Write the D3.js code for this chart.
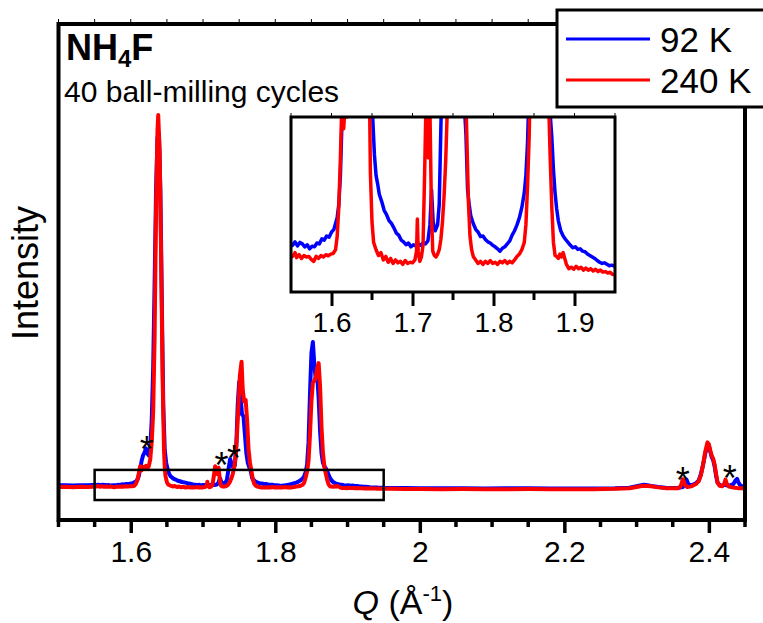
<!DOCTYPE html>
<html>
<head>
<meta charset="utf-8">
<script src="https://cdn.jsdelivr.net/npm/d3@7"></script>
<style>
  html, body { margin: 0; padding: 0; background: #fff; }
  svg text { font-family: "Liberation Sans", Arial, sans-serif; fill: #000; }
</style>
</head>
<body>
<svg id="chart" width="763" height="623"></svg>
<script>
// Q (1/A) and intensity, 0 = 240 K background level
const blue92 = [
  [1.500, 0.45], [1.510, 0.50], [1.520, 0.40], [1.530, 0.50], [1.540, 0.45], [1.548, 0.55],
  [1.552, 0.50], [1.555, 0.62], [1.558, 0.48], [1.561, 0.60], [1.564, 0.55], [1.567, 0.45],
  [1.570, 0.52], [1.573, 0.38], [1.576, 0.47], [1.579, 0.45], [1.582, 0.58], [1.585, 0.55],
  [1.588, 0.72], [1.591, 0.68], [1.594, 0.82], [1.597, 0.78], [1.600, 0.95], [1.603, 1.05],
  [1.605, 1.25], [1.607, 1.45], [1.609, 1.9], [1.611, 2.9], [1.613, 4.8], [1.615, 7.0],
  [1.617, 8.5], [1.619, 9.2], [1.621, 10.4], [1.623, 9.0], [1.625, 8.5], [1.627, 10.5],
  [1.629, 18], [1.631, 32], [1.633, 55], [1.635, 80], [1.637, 94], [1.639, 95], [1.641, 80],
  [1.643, 50], [1.645, 22], [1.647, 10], [1.649, 6.5], [1.651, 4.8], [1.653, 3.6], [1.655, 2.9],
  [1.657, 2.6], [1.659, 2.25], [1.662, 2.0], [1.665, 1.7], [1.668, 1.55], [1.671, 1.35],
  [1.674, 1.25], [1.677, 1.1], [1.680, 0.92], [1.683, 0.85], [1.686, 0.68], [1.689, 0.62],
  [1.692, 0.52], [1.695, 0.58], [1.698, 0.45], [1.701, 0.52], [1.704, 0.48], [1.707, 0.55],
  [1.710, 0.50], [1.713, 0.58], [1.716, 0.55], [1.719, 0.65], [1.7215, 1.2], [1.7235, 2.4],
  [1.7255, 1.3], [1.728, 1.0], [1.731, 1.2], [1.733, 1.9], [1.735, 4.5], [1.7375, 7.5],
  [1.740, 6.0], [1.742, 5.2], [1.744, 5.8], [1.746, 11], [1.748, 22], [1.750, 28.3], [1.752, 24],
  [1.754, 19.5], [1.756, 19], [1.758, 14], [1.760, 9], [1.762, 6.5], [1.764, 5.3], [1.766, 4.3],
  [1.768, 2.4], [1.770, 1.9], [1.772, 1.5], [1.775, 1.25], [1.778, 1.05], [1.781, 0.95],
  [1.784, 0.8], [1.787, 0.82], [1.790, 0.7], [1.793, 0.62], [1.796, 0.58], [1.799, 0.5],
  [1.802, 0.45], [1.805, 0.38], [1.808, 0.3], [1.811, 0.4], [1.814, 0.45], [1.817, 0.55],
  [1.820, 0.65], [1.823, 0.85], [1.826, 1.0], [1.829, 1.2], [1.832, 1.45], [1.835, 1.8],
  [1.838, 2.3], [1.840, 2.9], [1.842, 4.0], [1.844, 6], [1.846, 12], [1.848, 25], [1.850, 36],
  [1.852, 39], [1.854, 33], [1.856, 29], [1.858, 30], [1.860, 24], [1.862, 15], [1.864, 9],
  [1.866, 6.5], [1.868, 5.5], [1.870, 5], [1.872, 4.2], [1.874, 3.1], [1.876, 2.3], [1.878, 1.75],
  [1.880, 1.35], [1.883, 1.0], [1.886, 0.82], [1.889, 0.7], [1.892, 0.6], [1.895, 0.5],
  [1.898, 0.42], [1.901, 0.45], [1.904, 0.36], [1.907, 0.38], [1.910, 0.3], [1.913, 0.28],
  [1.916, 0.2], [1.919, 0.15], [1.922, 0.1], [1.925, 0.05], [1.928, -0.02], [1.931, -0.08],
  [1.934, -0.12], [1.937, -0.1], [1.940, -0.15], [1.943, -0.2], [1.946, -0.18], [1.950, -0.22],
  [1.96, -0.25], [1.98, -0.28], [2.00, -0.3], [2.03, -0.35], [2.06, -0.3], [2.09, -0.38],
  [2.12, -0.35], [2.15, -0.3], [2.18, -0.4], [2.21, -0.42], [2.24, -0.4], [2.27, -0.35],
  [2.29, -0.2], [2.300, 0.2], [2.305, 0.4], [2.310, 0.6], [2.315, 0.5], [2.320, 0.3],
  [2.330, 0.0], [2.340, -0.2], [2.350, -0.25], [2.358, -0.2], [2.364, 0.0], [2.367, 1.0],
  [2.369, 2.0], [2.371, 1.0], [2.374, 0.4], [2.378, 0.6], [2.382, 1.0], [2.386, 1.8],
  [2.389, 3.5], [2.392, 6], [2.395, 9], [2.398, 11.2], [2.400, 11], [2.402, 9.5], [2.404, 8],
  [2.406, 7.2], [2.408, 5.5], [2.410, 3], [2.412, 1.2], [2.415, 0.5], [2.418, 0.3], [2.422, 0.6],
  [2.426, 0.4], [2.430, 0.5], [2.434, 0.8], [2.437, 1.8], [2.439, 2.2], [2.441, 1.2],
  [2.444, 0.3], [2.450, 0.1],
];

const red240 = [
  [1.500, 0.0], [1.510, 0.05], [1.520, -0.05], [1.530, 0.05], [1.540, 0.0], [1.548, 0.1],
  [1.552, 0.12], [1.555, 0.25], [1.557, 0.08], [1.560, 0.18], [1.563, 0.05], [1.566, 0.15],
  [1.569, 0.1], [1.572, 0.12], [1.575, 0.02], [1.578, -0.05], [1.581, 0.12], [1.584, 0.05],
  [1.587, 0.15], [1.590, 0.1], [1.593, 0.18], [1.596, 0.14], [1.599, 0.2], [1.602, 0.22],
  [1.605, 0.35], [1.607, 0.8], [1.609, 1.8], [1.611, 3.5], [1.613, 5.6], [1.615, 4.5],
  [1.617, 5.4], [1.619, 4.9], [1.621, 5.7], [1.623, 5.0], [1.625, 5.6], [1.627, 7.5],
  [1.629, 12], [1.631, 20], [1.633, 40], [1.635, 75], [1.637, 96], [1.638, 100], [1.640, 90],
  [1.642, 62], [1.644, 30], [1.646, 10], [1.647, 5.5], [1.648, 3], [1.650, 1.3], [1.652, 0.6],
  [1.655, 0.35], [1.658, 0.15], [1.661, 0.25], [1.664, 0.0], [1.667, 0.12], [1.670, -0.08],
  [1.673, 0.05], [1.676, -0.12], [1.679, 0.0], [1.682, -0.1], [1.685, -0.05], [1.688, -0.15],
  [1.691, -0.02], [1.694, -0.12], [1.697, -0.08], [1.700, -0.1], [1.703, 0.0], [1.705, 0.3],
  [1.706, 1.4], [1.707, 0.3], [1.709, -0.05], [1.711, 0.1], [1.713, 0.5], [1.715, 3],
  [1.7168, 5.6], [1.718, 4], [1.7195, 3.5], [1.7215, 5.2], [1.7235, 1.5], [1.725, 0.3],
  [1.727, 0.15], [1.729, 0.1], [1.731, 0.2], [1.733, 0.35], [1.735, 0.7], [1.737, 1.3],
  [1.739, 2.2], [1.741, 3.4], [1.743, 5.2], [1.745, 8], [1.747, 14], [1.749, 22], [1.751, 30],
  [1.7533, 33.7], [1.755, 26], [1.757, 23], [1.759, 23.4], [1.761, 18], [1.763, 10],
  [1.765, 6.5], [1.767, 4.3], [1.769, 2.0], [1.771, 0.8], [1.773, 0.35], [1.775, 0.12],
  [1.778, 0.0], [1.781, -0.12], [1.784, -0.05], [1.787, -0.15], [1.790, -0.05], [1.793, -0.12],
  [1.796, -0.02], [1.799, -0.12], [1.802, -0.08], [1.805, -0.15], [1.808, -0.05], [1.811, -0.1],
  [1.814, -0.02], [1.817, -0.12], [1.820, -0.05], [1.823, -0.1], [1.826, 0.0], [1.829, 0.12],
  [1.832, 0.2], [1.835, 0.35], [1.838, 0.6], [1.840, 1.2], [1.842, 2.5], [1.844, 4.2],
  [1.846, 7], [1.848, 14], [1.850, 23], [1.852, 28], [1.854, 28.5], [1.856, 29.5], [1.858, 32],
  [1.860, 33.3], [1.862, 27], [1.864, 16], [1.866, 9], [1.868, 5.5], [1.870, 3.5], [1.872, 1.8],
  [1.874, 0.6], [1.876, 0.15], [1.878, 0.12], [1.880, 0.05], [1.882, 0.2], [1.884, 0.1],
  [1.886, 0.25], [1.888, 0.05], [1.890, -0.15], [1.893, -0.3], [1.896, -0.25], [1.899, -0.32],
  [1.902, -0.22], [1.905, -0.3], [1.908, -0.25], [1.911, -0.35], [1.914, -0.28], [1.917, -0.35],
  [1.920, -0.3], [1.923, -0.38], [1.926, -0.32], [1.929, -0.4], [1.932, -0.35], [1.935, -0.42],
  [1.938, -0.4], [1.941, -0.45], [1.944, -0.42], [1.947, -0.5], [1.950, -0.5], [1.96, -0.5],
  [1.98, -0.55], [2.00, -0.55], [2.03, -0.6], [2.06, -0.55], [2.09, -0.62], [2.12, -0.6],
  [2.15, -0.55], [2.18, -0.62], [2.21, -0.6], [2.24, -0.58], [2.27, -0.5], [2.29, -0.35],
  [2.300, 0.0], [2.305, 0.2], [2.310, 0.35], [2.315, 0.3], [2.320, 0.2], [2.330, -0.1],
  [2.340, -0.3], [2.350, -0.35], [2.358, -0.3], [2.361, 0.2], [2.364, 2.1], [2.367, 0.6],
  [2.370, 0.0], [2.374, 0.1], [2.378, 0.4], [2.382, 0.8], [2.386, 1.6], [2.389, 3.2],
  [2.392, 6], [2.395, 9.5], [2.398, 12], [2.400, 11.5], [2.402, 9.8], [2.404, 8.4],
  [2.406, 7.6], [2.408, 6], [2.410, 3.5], [2.412, 1.2], [2.415, 0.3], [2.418, 0.2],
  [2.421, 0.8], [2.423, 2.0], [2.425, 0.8], [2.428, 0.1], [2.432, -0.1], [2.436, -0.2],
  [2.440, -0.3], [2.445, -0.35], [2.450, -0.4],
];

const seriesNames = ['92 K', '240 K'];
const seriesColors = ['#0000ff', '#ff0000'];

const xTicks = [1.6, 1.8, 2.0, 2.2, 2.4];
const xTickLabels = ['1.6', '1.8', '2', '2.2', '2.4'];
const insetTicks = [1.6, 1.7, 1.8, 1.9];
const insetTickLabels = ['1.6', '1.7', '1.8', '1.9'];

// impurity peaks marked with * : [Q, intensity]
const starMarks = [[1.622, 12], [1.7257, 7.8], [1.743, 9.6], [2.364, 3.9], [2.4288, 4.3]];

const qDomain = [1.5, 2.45];
const intensityDomain = [-8.87, 124.5];
const insetQ = [1.55, 1.95];
const insetIntensity = [-1.1, 4.9];
const zoomBox = { q: [1.55, 1.95], intensity: [-3.5, 4.6] };

let svg = d3.select('#chart');

// main panel
let x = d3.scaleLinear().domain(qDomain).range([58.5, 745]);
let y = d3.scaleLinear().domain(intensityDomain).range([520, 24]);

svg.append('clipPath').attr('id', 'mainClip')
  .append('rect')
  .attr('x', x(qDomain[0])).attr('y', y(intensityDomain[1]))
  .attr('width', x(qDomain[1]) - x(qDomain[0]))
  .attr('height', y(intensityDomain[0]) - y(intensityDomain[1]));

let mainLine = d3.line().x(d => x(d[0])).y(d => y(d[1]));

let mainPlot = svg.append('g').attr('clip-path', 'url(#mainClip)');
[blue92, red240].forEach((s, i) => {
  mainPlot.append('path')
    .datum(s)
    .attr('d', mainLine)
    .style('fill', 'none')
    .style('stroke', seriesColors[i])
    .style('stroke-width', 4)
    .style('stroke-linejoin', 'round');
});

// box showing the zoomed region
svg.append('rect')
  .attr('x', x(zoomBox.q[0]))
  .attr('y', y(zoomBox.intensity[1]))
  .attr('width', x(zoomBox.q[1]) - x(zoomBox.q[0]))
  .attr('height', y(zoomBox.intensity[0]) - y(zoomBox.intensity[1]))
  .style('fill', 'none')
  .style('stroke', '#000')
  .style('stroke-width', 2.5);

svg.selectAll('text.star')
  .data(starMarks)
  .enter().append('text')
  .attr('class', 'star')
  .attr('x', d => x(d[0]))
  .attr('y', d => y(d[1]) + 20)
  .attr('text-anchor', 'middle')
  .style('font-size', '36px')
  .text('*');

// x axis, major + minor ticks
let minorTicks = d3.range(1.5, 2.4501, 0.05).filter(v => !xTicks.some(t => Math.abs(t - v) < 1e-6));

let xAxis = svg.append('g')
  .attr('transform', 'translate(0,520)')
  .call(d3.axisBottom(x).tickValues(xTicks).tickSize(13).tickPadding(8)
    .tickFormat((d, i) => xTickLabels[i]));
xAxis.select('.domain').remove();
xAxis.selectAll('.tick line').style('stroke', '#000').style('stroke-width', 3.5);
xAxis.selectAll('.tick text').style('font-size', '30px').style('font-family', '"Liberation Sans", Arial, sans-serif');

svg.append('g').selectAll('line')
  .data(minorTicks)
  .enter().append('line')
  .attr('x1', d => x(d)).attr('x2', d => x(d))
  .attr('y1', 520).attr('y2', 527)
  .style('stroke', '#000').style('stroke-width', 3.5);

// tiny ticks on top edge
svg.append('g').selectAll('line')
  .data(d3.range(1.5, 2.4501, 0.05))
  .enter().append('line')
  .attr('x1', d => x(d)).attr('x2', d => x(d))
  .attr('y1', 24).attr('y2', 19)
  .style('stroke', '#000').style('stroke-width', 1);

svg.append('rect')
  .attr('x', x(qDomain[0])).attr('y', y(intensityDomain[1]))
  .attr('width', x(qDomain[1]) - x(qDomain[0]))
  .attr('height', y(intensityDomain[0]) - y(intensityDomain[1]))
  .style('fill', 'none').style('stroke', '#000').style('stroke-width', 4);

// inset
let xi = d3.scaleLinear().domain(insetQ).range([291, 615]);
let yi = d3.scaleLinear().domain(insetIntensity).range([292, 117]);

svg.append('clipPath').attr('id', 'insetClip')
  .append('rect')
  .attr('x', xi(insetQ[0])).attr('y', yi(insetIntensity[1]))
  .attr('width', xi(insetQ[1]) - xi(insetQ[0]))
  .attr('height', yi(insetIntensity[0]) - yi(insetIntensity[1]));

svg.append('rect')
  .attr('x', xi(insetQ[0])).attr('y', yi(insetIntensity[1]))
  .attr('width', xi(insetQ[1]) - xi(insetQ[0]))
  .attr('height', yi(insetIntensity[0]) - yi(insetIntensity[1]))
  .style('fill', '#fff');

let insetLine = d3.line().x(d => xi(d[0])).y(d => yi(d[1]));
let insetPlot = svg.append('g').attr('clip-path', 'url(#insetClip)');
[blue92, red240].forEach((s, i) => {
  insetPlot.append('path')
    .datum(s)
    .attr('d', insetLine)
    .style('fill', 'none')
    .style('stroke', seriesColors[i])
    .style('stroke-width', 3.5)
    .style('stroke-linejoin', 'round');
});

let insetAxis = svg.append('g')
  .attr('transform', 'translate(0,292)')
  .call(d3.axisBottom(xi).tickValues(insetTicks).tickSize(14).tickPadding(6)
    .tickFormat((d, i) => insetTickLabels[i]));
insetAxis.select('.domain').remove();
insetAxis.selectAll('.tick line').style('stroke', '#000').style('stroke-width', 3);
insetAxis.selectAll('.tick text').style('font-size', '28px').style('font-family', '"Liberation Sans", Arial, sans-serif');

svg.append('g').selectAll('line')
  .data([1.65, 1.75, 1.85])
  .enter().append('line')
  .attr('x1', d => xi(d)).attr('x2', d => xi(d))
  .attr('y1', 292).attr('y2', 300)
  .style('stroke', '#000').style('stroke-width', 3);

svg.append('g').selectAll('line')
  .data(d3.range(1.55, 1.9501, 0.05))
  .enter().append('line')
  .attr('x1', d => xi(d)).attr('x2', d => xi(d))
  .attr('y1', 117).attr('y2', 113)
  .style('stroke', '#000').style('stroke-width', 1);

svg.append('rect')
  .attr('x', xi(insetQ[0])).attr('y', yi(insetIntensity[1]))
  .attr('width', xi(insetQ[1]) - xi(insetQ[0]))
  .attr('height', yi(insetIntensity[0]) - yi(insetIntensity[1]))
  .style('fill', 'none').style('stroke', '#000').style('stroke-width', 3);

// labels
let title = svg.append('text').attr('x', 66).attr('y', 60)
  .style('font-size', '36px').style('font-weight', 'bold');
title.append('tspan').text('NH');
title.append('tspan').attr('dy', 7).style('font-size', '24px').text('4');
title.append('tspan').attr('dy', -7).text('F');

svg.append('text').attr('x', 64).attr('y', 102)
  .style('font-size', '30px')
  .text('40 ball-milling cycles');

svg.append('text')
  .attr('transform', 'translate(38,273) rotate(-90)')
  .attr('text-anchor', 'middle')
  .style('font-size', '36px')
  .text('Intensity');

let xLabel = svg.append('text').attr('x', 403).attr('y', 614)
  .attr('text-anchor', 'middle')
  .style('font-size', '34px');
xLabel.append('tspan').style('font-style', 'italic').text('Q');
xLabel.append('tspan').text(' (Å');
xLabel.append('tspan').attr('dy', -13).style('font-size', '22px').text('-1');
xLabel.append('tspan').attr('dy', 13).text(')');

// legend
let legend = svg.append('g');
legend.append('rect')
  .attr('x', 557).attr('y', 10).attr('width', 230).attr('height', 97)
  .style('fill', '#fff').style('stroke', '#000').style('stroke-width', 3);
seriesNames.forEach((name, i) => {
  let ly = 39 + i * 41;
  legend.append('line')
    .attr('x1', 566).attr('x2', 650).attr('y1', ly).attr('y2', ly)
    .style('stroke', seriesColors[i]).style('stroke-width', 3);
  legend.append('text')
    .attr('x', 660).attr('y', ly + 13)
    .style('font-size', '35px')
    .text(name);
});
</script>
</body>
</html>
